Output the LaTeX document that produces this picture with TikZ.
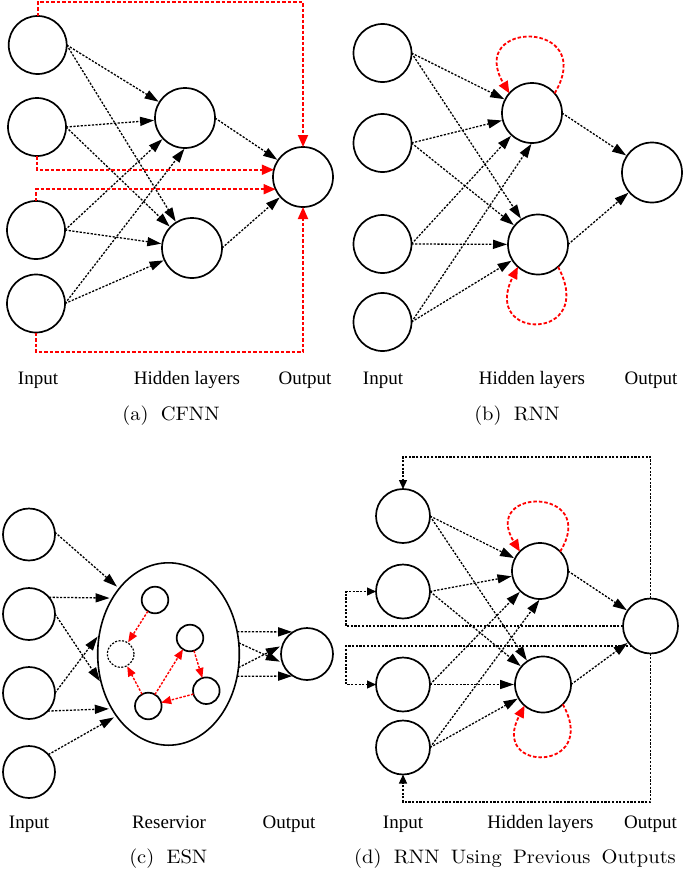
\documentclass[tikz,border=0pt]{standalone}
\usepackage{fontspec}
\usetikzlibrary{arrows.meta,shapes.geometric,calc}
\newfontfamily\lblfont{Liberation Serif}
\newcommand\capt[1]{\scalebox{2.05}[1.95]{\fontsize{10}{12}\selectfont #1}}
\newcommand\cgap{\hspace{0.6em}}
\tikzset{
 nrn/.style={circle,draw,line width=1.7pt,inner sep=0pt,outer sep=0pt,minimum size=#1},
 ar/.style={line width=1.3pt,dash pattern=on 2.2pt off 1.5pt,-{Triangle[length=14pt,width=9pt]},shorten >=1pt},
 ra/.style={red,line width=1.8pt,dash pattern=on 3.5pt off 2pt,-{Triangle[length=12pt,width=10pt]}},
 rs/.style={red,line width=1.4pt,dash pattern=on 2.5pt off 1.5pt,-{Triangle[length=10pt,width=8pt]}},
 fb/.style={line width=1.3pt,dash pattern=on 2.2pt off 1.5pt,-{Triangle[length=9pt,width=8pt]}},
 lbl/.style={anchor=base,font=\lblfont\fontsize{19}{22}\selectfont,inner sep=0pt},
 captxt/.style={anchor=base,inner sep=0pt},
}
\begin{document}
\begin{tikzpicture}[x=1pt,y=-1pt]
\fill[white] (0,0) rectangle (685,870);
\useasboundingbox (0,0) rectangle (685,870);

% ---------- (a) CFNN ----------
\node[nrn=58] (ai1) at (37.7,45) {};
\node[nrn=58] (ai2) at (37,127) {};
\node[nrn=58] (ai3) at (36,230) {};
\node[nrn=58] (ai4) at (36,303.5) {};
\node[nrn=60] (ah1) at (185,118) {};
\node[nrn=60] (ah2) at (192,248) {};
\node[nrn=60] (ao) at (303,177) {};
\coordinate (atop) at (0,2);
\coordinate (abot) at (0,352);
\draw[ar] (ai1.east) -- (ah1);
\draw[ar] (ai1.east) -- (ah2);
\draw[ar] (ai2.east) -- (ah1);
\draw[ar] (ai2.east) -- (ah2);
\draw[ar] (ai3.east) -- (ah1);
\draw[ar] (ai3.east) -- (ah2);
\draw[ar] (ai4.east) -- (ah1.south);
\draw[ar] (ai4.east) -- (ah2);
\draw[ar] (ah1.east) -- (ao);
\draw[ar] (ah2.east) -- (ao);
\draw[ra] (ai1.north) |- (atop -| ao.north) -- (ao.north);
\draw[ra] (ai2.south) |- (ao.166);
\draw[ra] (ai3.north) |- (ao.204);
\draw[ra] (ai4.south) |- (abot -| ao.south) -- (ao.south);
\node[lbl] (al1) at (38,384) {Input};
\node[lbl] (al2) at (187,384) {Hidden layers};
\node[lbl] (al3) at (305,384) {Output};
\node[captxt] (acap) at (171,420) {\capt{(a)\cgap CFNN}};

% ---------- (b) RNN ----------
\node[nrn=58] (bi1) at (382.5,53) {};
\node[nrn=58] (bi2) at (382.5,143) {};
\node[nrn=58] (bi3) at (382.5,244) {};
\node[nrn=58] (bi4) at (382.5,322) {};
\node[nrn=60] (bh1) at (532,113) {};
\node[nrn=60] (bh2) at (538,244.5) {};
\node[nrn=60] (bo) at (652,172.5) {};
\draw[ar] (bi1.east) -- (bh1);
\draw[ar] (bi1.east) -- (bh2);
\draw[ar] (bi2.east) -- (bh1);
\draw[ar] (bi2.east) -- (bh2);
\draw[ar] (bi3.east) -- (bh1);
\draw[ar] (bi3.east) -- (bh2);
\draw[ar] (bi4.east) -- (bh1.south);
\draw[ar] (bi4.east) -- (bh2);
\draw[ar] (bh1.east) -- (bo);
\draw[ar] (bh2.east) -- (bo);
\draw[ra] (bh1.41) .. controls +(44,-74) and +(-44,-74) .. (bh1.139);
\draw[ra] (bh2.-48) .. controls +(40,75) and +(-38,75) .. (bh2.-132);
\node[lbl] (bl1) at (383,384) {Input};
\node[lbl] (bl2) at (532,384) {Hidden layers};
\node[lbl] (bl3) at (651,384) {Output};
\node[captxt] (bcap) at (517,420) {\capt{(b)\cgap RNN}};

% ---------- (c) ESN ----------
\node[nrn=52] (ci1) at (29,534.5) {};
\node[nrn=52] (ci2) at (29,614) {};
\node[nrn=52] (ci3) at (29,693) {};
\node[nrn=52] (ci4) at (29,772) {};
\node[ellipse,draw,line width=1.6pt,inner sep=0pt,outer sep=0pt,minimum width=141.6pt,minimum height=182.4pt] (res) at (168.5,654) {};
\node[nrn=26.6] (cs1) at (155,600) {};
\node[circle,draw,line width=1.2pt,dash pattern=on 2pt off 1.5pt,inner sep=0pt,minimum size=26.6pt] (cs2) at (120.7,654) {};
\node[nrn=26.6] (cs3) at (190,638) {};
\node[nrn=26.6] (cs4) at (206.3,690.7) {};
\node[nrn=26.6] (cs5) at (148.3,706) {};
\node[nrn=52] (co) at (307,654) {};
\draw[rs] (cs1) -- (cs2);
\draw[rs] (cs5) -- (cs2);
\draw[rs] (cs5.60) -- (cs3);
\draw[rs] (cs3) -- (cs4);
\draw[rs] (cs4) -- (cs5);
\draw[ar,shorten >=3pt] (ci1.5) -- (res.127);
\draw[ar,shorten >=3pt] (ci2.40) -- (res.135);
\draw[ar,shorten >=3pt] (ci2.east) -- (res.204);
\draw[ar,shorten >=3pt] (ci3.east) -- (res.164);
\draw[ar,shorten >=3pt] (ci3.-44) -- (res.224);
\draw[ar,shorten >=3pt] (ci4.42) -- (res.230);
\draw[ar] (res.18) -- (co.122);
\draw[ar,shorten >=3pt] (res.9) -- (co.200);
\draw[ar,shorten >=3pt] (res.-11) -- (co.160);
\draw[ar] (res.-18) -- (co.238);
\node[lbl] (cl1) at (29,828) {Input};
\node[lbl] (cl2) at (169,828) {Reservior};
\node[lbl] (cl3) at (289,828) {Output};
\node[captxt] (ccap) at (168.3,863.5) {\capt{(c)\cgap ESN}};

% ---------- (d) RNN using previous outputs ----------
\node[nrn=54] (di1) at (403,516) {};
\node[nrn=54] (di2) at (403,591.5) {};
\node[nrn=54] (di3) at (403,684.5) {};
\node[nrn=54] (di4) at (403,747.5) {};
\node[nrn=56] (dh1) at (540,571) {};
\node[nrn=56] (dh2) at (543,684.5) {};
\node[nrn=55] (do) at (650.5,626) {};
\coordinate (dtop) at (0,457);
\coordinate (dbot) at (0,802);
\coordinate (dlft) at (346,0);
\draw[ar] (di1.east) -- (dh1);
\draw[ar] (di1.east) -- (dh2);
\draw[ar] (di2.east) -- (dh1);
\draw[ar] (di2.east) -- (dh2);
\draw[ar] (di3.east) -- (dh1);
\draw[ar] (di3.east) -- (dh2);
\draw[ar] (di4.east) -- (dh1.south);
\draw[ar] (di4.east) -- (dh2);
\draw[ar] (dh1.east) -- (do);
\draw[ar] (dh2.east) -- (do);
\draw[ra] (dh1.44) .. controls +(40,-65) and +(-40,-65) .. (dh1.136);
\draw[ra] (dh2.-45) .. controls +(38,68) and +(-36,68) .. (dh2.-131);
\draw[fb] (do.north) -- (do.north |- dtop) -| (di1.north);
\draw[fb] (do.west) -- (do.west -| dlft) |- (di2.west);
\draw[fb] (do.227) -- (do.227 -| dlft) |- (di3.west);
\draw[fb] (do.south) -- (do.south |- dbot) -| (di4.south);
\node[lbl] (dl1) at (403,828) {Input};
\node[lbl] (dl2) at (540.5,828) {Hidden layers};
\node[lbl] (dl3) at (650.5,828) {Output};
\node[captxt] (dcap) at (515,863.5) {\capt{(d)\cgap RNN\hspace{0.55em}Using\hspace{0.55em}Previous\hspace{0.55em}Outputs}};
\end{tikzpicture}
\end{document}
